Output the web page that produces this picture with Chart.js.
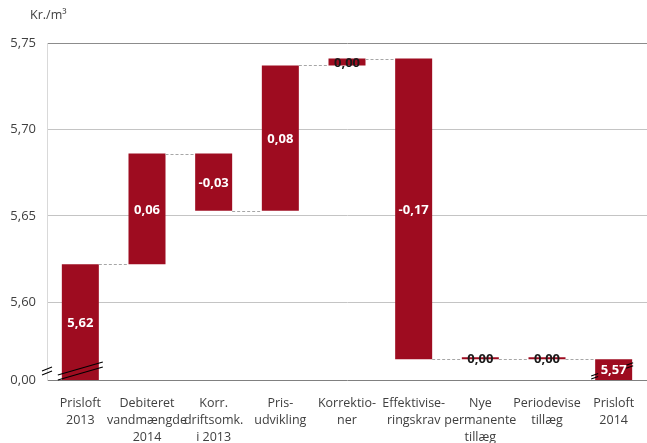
<!DOCTYPE html>
<html>
<head>
<meta charset="utf-8">
<script src="https://cdn.jsdelivr.net/npm/chart.js@4.4.1/dist/chart.umd.min.js"></script>
<style>
    body { margin: 0; background: #ffffff; }
    canvas { display: block; }
</style>
</head>
<body>
<canvas id="waterfall-chart" width="647" height="443"></canvas>
<script>
const categories = [
    ["Prisloft", "2013"],
    ["Debiteret", "vandmængde", "2014"],
    ["Korr.", "driftsomk.", "i 2013"],
    ["Pris-", "udvikling"],
    ["Korrektio-", "ner"],
    ["Effektivise-", "ringskrav"],
    ["Nye", "permanente", "tillæg"],
    ["Periodevise", "tillæg"],
    ["Prisloft", "2014"]
];

// first and last entries are totals, the rest are changes on the running total
const changes = [5.622, 0.064, -0.033, 0.084, 0.004, -0.174, 0.000, 0.000, 5.567];
const isTotal = [true, false, false, false, false, false, false, false, true];

// the y axis is broken: its bottom is shown as 0,00
const axisFloor = 5.555;
const axisTop = 5.75;
const yTickValues = [5.60, 5.65, 5.70, 5.75];

const barColor = "#9e0c20";
const textColor = "#404040";
const fontFamily = "'Open Sans', sans-serif";

function formatValue(v) {
    return v.toFixed(2).replace(".", ",");
}

// build the floating bar ranges
const barRanges = [];
let running = 0;
changes.forEach((v, i) => {
    if (isTotal[i]) {
        barRanges.push([axisFloor, v]);
        running = v;
    } else {
        barRanges.push([running, running + v]);
        running += v;
    }
});

const waterfallPlugin = {
    id: "waterfallExtras",
    afterDatasetsDraw(chart) {
        const ctx = chart.ctx;
        const yScale = chart.scales.y;
        const bars = chart.getDatasetMeta(0).data;

        // dashed connectors between neighbouring bars
        ctx.save();
        ctx.strokeStyle = "#a6a6a6";
        ctx.lineWidth = 1;
        ctx.setLineDash([3, 2]);
        for (let i = 0; i < bars.length - 1; i++) {
            const level = barRanges[i][1];
            const y = Math.round(yScale.getPixelForValue(level)) + 0.5;
            const x1 = bars[i].x + bars[i].width / 2;
            const x2 = bars[i + 1].x - bars[i + 1].width / 2;
            ctx.beginPath();
            ctx.moveTo(x1, y);
            ctx.lineTo(x2, y);
            ctx.stroke();
        }
        ctx.restore();

        // axis break marks
        ctx.save();
        ctx.strokeStyle = "#000000";
        ctx.lineWidth = 1.1;
        const area = chart.chartArea;
        const by = yScale.getPixelForValue(axisFloor) - 10;
        [[-5, 1], [-5, 5]].forEach(([dx, dy]) => {
            ctx.beginPath();
            ctx.moveTo(area.left + dx, by + dy);
            ctx.lineTo(area.left + dx + 10, by + dy - 4);
            ctx.stroke();
        });

        const first = bars[0];
        const fl = first.x - first.width / 2 - 4;
        const fr = first.x + first.width / 2 + 4;
        [[-5, -18], [0, -13]].forEach(([a, b]) => {
            ctx.beginPath();
            ctx.moveTo(fl, first.base + a);
            ctx.lineTo(fr, first.base + b);
            ctx.stroke();
        });

        const last = bars[bars.length - 1];
        const ll = last.x - last.width / 2;
        const lr = last.x + last.width / 2;
        [[ll - 1, last.base - 5], [lr - 3, last.y + 5]].forEach(([mx, my]) => {
            [0, 3].forEach(off => {
                ctx.beginPath();
                ctx.moveTo(mx - 3, my + off + 1);
                ctx.lineTo(mx + 4, my + off - 1.5);
                ctx.stroke();
            });
        });
        ctx.restore();

        // value labels
        ctx.save();
        ctx.font = "bold 13px " + fontFamily;
        ctx.textAlign = "center";
        ctx.textBaseline = "middle";
        bars.forEach((bar, i) => {
            const h = Math.abs(bar.base - bar.y);
            ctx.fillStyle = h < 14 ? "#1a1a1a" : "#ffffff";
            ctx.fillText(formatValue(changes[i]), bar.x, (bar.y + bar.base) / 2 + 1);
        });
        ctx.restore();

        // unit above the y axis
        ctx.save();
        ctx.font = "12.5px " + fontFamily;
        ctx.fillStyle = textColor;
        ctx.textAlign = "left";
        ctx.textBaseline = "middle";
        ctx.fillText("Kr./m³", 30, 15);
        ctx.restore();
    }
};

new Chart(document.getElementById("waterfall-chart"), {
    type: "bar",
    data: {
        labels: categories,
        datasets: [
            {
                data: barRanges,
                backgroundColor: barColor,
                borderWidth: 0,
                minBarLength: 2,
                categoryPercentage: 1,
                barPercentage: 0.555
            }
        ]
    },
    options: {
        responsive: false,
        devicePixelRatio: 1,
        animation: false,
        layout: { padding: { top: 43, right: 0, left: 0, bottom: 0 } },
        plugins: {
            legend: { display: false },
            tooltip: { enabled: false }
        },
        scales: {
            x: {
                grid: { display: false },
                border: { color: "#808080", width: 1 },
                ticks: {
                    color: textColor,
                    font: { family: fontFamily, size: 12.5, lineHeight: 1.36 },
                    padding: 7,
                    maxRotation: 0,
                    minRotation: 0,
                    autoSkip: false
                },
                afterFit(scale) {
                    scale.height = 63;
                }
            },
            y: {
                min: axisFloor,
                max: axisTop,
                afterBuildTicks(scale) {
                    scale.ticks = [axisFloor, ...yTickValues].map(value => ({ value }));
                },
                grid: {
                    drawTicks: false,
                    color: c => {
                        if (c.tick.value === axisTop) return "#8c8c8c";
                        if (c.tick.value === axisFloor) return "rgba(0,0,0,0)";
                        return "#c4c4c4";
                    }
                },
                border: { color: "#d9d9d9" },
                ticks: {
                    color: textColor,
                    font: { family: fontFamily, size: 13 },
                    padding: 11,
                    callback: v => (v === axisFloor ? "0,00" : formatValue(v))
                },
                afterFit(scale) {
                    scale.width = 47;
                }
            }
        }
    },
    plugins: [waterfallPlugin]
});
</script>
</body>
</html>
